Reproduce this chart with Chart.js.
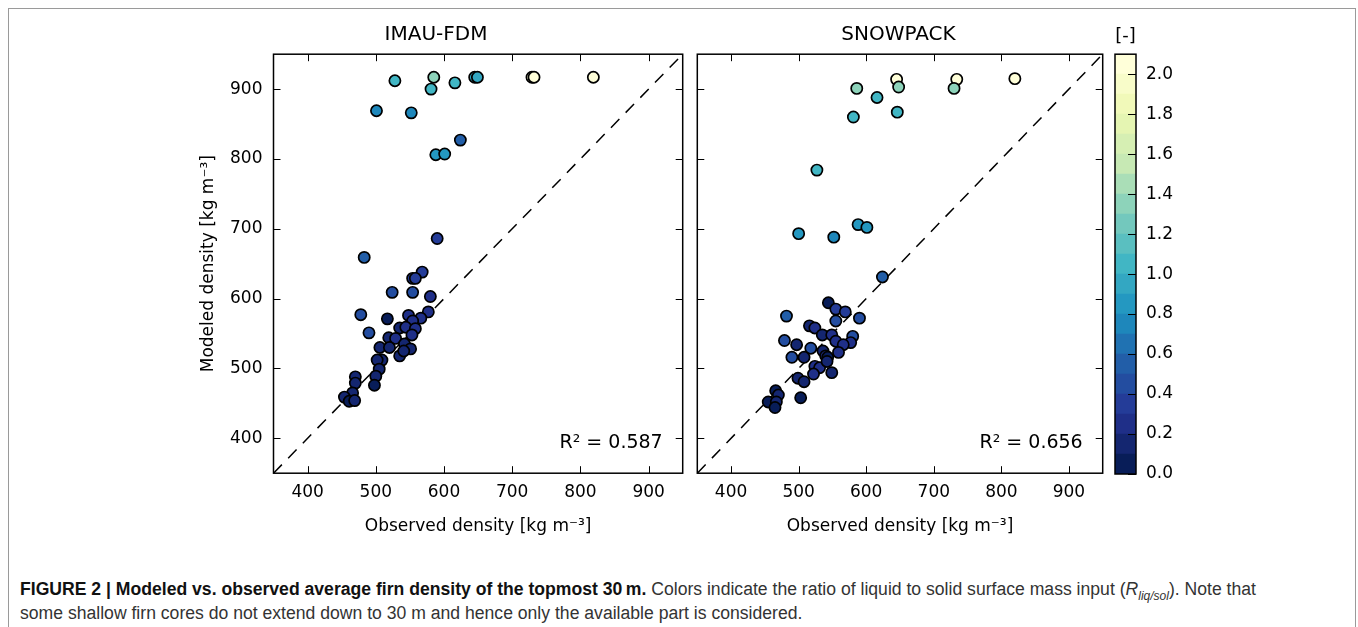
<!DOCTYPE html>
<html>
<head>
<meta charset="utf-8">
<title>Modeled vs observed firn density</title>
<script src="https://cdn.jsdelivr.net/npm/chart.js"></script>
<style>
  body { margin: 0; background: #fff; width: 1358px; height: 627px; overflow: hidden; position: relative; }
  .frame { position: absolute; left: 8px; top: 8px; width: 1346px; height: 640px; border: 1.5px solid #9a9a9a; }
  canvas { position: absolute; }
  #caption { position: absolute; left: 20px; top: 577px; font-family: "Liberation Sans", Arial, sans-serif;
             font-size: 17.6px; line-height: 24px; color: #333; white-space: nowrap; }
  #caption b { color: #111; }
  #caption sub { font-size: 12px; line-height: 0; }
</style>
</head>
<body>
<div class="frame"></div>
<canvas id="fdmChart" width="505" height="520" style="left:185px; top:20px"></canvas>
<canvas id="spChart" width="420" height="520" style="left:690px; top:20px"></canvas>
<canvas id="cbChart" width="240" height="520" style="left:1110px; top:20px"></canvas>
<div id="caption"><b>FIGURE 2 | Modeled vs. observed average firn density of the topmost 30&#8201;m.</b> Colors indicate the ratio of liquid to solid surface mass input (<i>R<sub>liq/sol</sub></i>). Note that<br>some shallow firn cores do not extend down to 30 m and hence only the available part is considered.</div>

<script>
// axis ticks
const densityTicks = [400, 500, 600, 700, 800, 900];
const ratioTicks = [0.0, 0.2, 0.4, 0.6, 0.8, 1.0, 1.2, 1.4, 1.6, 1.8, 2.0];
const ratioLevels = [0.0, 0.1, 0.2, 0.3, 0.4, 0.5, 0.6, 0.7, 0.8, 0.9, 1.0,
                     1.1, 1.2, 1.3, 1.4, 1.5, 1.6, 1.7, 1.8, 1.9, 2.0];

// IMAU-FDM panel
const fdmObs = [528, 585, 581, 616, 645, 649, 729, 732, 819, 501, 552, 624, 588, 601, 590, 483, 568, 554, 558, 524,
                554, 580, 478, 577, 566, 517, 548, 554, 490, 535, 544, 558, 553, 519, 529, 542, 506, 520, 551, 535,
                541, 509, 502, 505, 500, 498, 470, 470, 466, 454, 461, 469];
const fdmMod = [912, 917, 900, 909, 917, 917, 917, 917, 917, 869, 866, 827, 806, 807, 686, 659, 638, 629, 629, 609,
                609, 603, 577, 581, 572, 571, 576, 568, 551, 558, 559, 557, 548, 544, 543, 535, 530, 530, 528, 518,
                525, 512, 512, 499, 489, 476, 488, 479, 465, 459, 453, 454];
const fdmRatio = [1.0, 1.3, 1.05, 1.0, 0.95, 0.9, 2.05, 2.05, 2.0, 0.7, 0.7, 0.5, 0.8, 0.8, 0.3, 0.55, 0.35, 0.3, 0.3, 0.45,
                  0.4, 0.25, 0.45, 0.25, 0.2, 0.05, 0.2, 0.2, 0.4, 0.15, 0.2, 0.2, 0.2, 0.15, 0.2, 0.1, 0.1, 0.15, 0.15, 0.15,
                  0.1, 0.15, 0.1, 0.1, 0.1, 0.05, 0.1, 0.1, 0.1, 0.1, 0.05, 0.1];

// SNOWPACK panel
const spObs = [645, 648, 734, 730, 820, 586, 616, 646, 581, 527, 588, 601, 500, 552, 624, 544, 555, 569, 590, 482,
               555, 516, 524, 535, 549, 580, 577, 479, 497, 518, 555, 566, 536, 559, 490, 508, 540, 543, 524, 531,
               542, 522, 549, 499, 508, 503, 466, 470, 455, 467, 465];
const spMod = [914, 903, 914, 901, 915, 901, 888, 867, 860, 784, 706, 702, 693, 688, 631, 594, 585, 581, 572, 575,
               568, 561, 558, 548, 548, 546, 537, 540, 534, 529, 539, 534, 525, 523, 516, 516, 518, 516, 503, 501,
               510, 492, 494, 486, 481, 458, 468, 462, 452, 452, 444];
const spRatio = [2.05, 1.35, 2.05, 1.35, 2.0, 1.35, 1.05, 1.0, 1.0, 1.0, 0.8, 0.8, 0.8, 0.75, 0.55, 0.05, 0.35, 0.35, 0.4, 0.55,
                 0.4, 0.1, 0.2, 0.15, 0.2, 0.4, 0.25, 0.45, 0.1, 0.4, 0.2, 0.25, 0.15, 0.2, 0.4, 0.1, 0.2, 0.05, 0.25, 0.25,
                 0.15, 0.2, 0.1, 0.1, 0.15, 0.05, 0.05, 0.1, 0.05, 0.1, 0.05];

const ylgnbu = ['#081d58', '#253494', '#225ea8', '#1d91c0', '#41b6c4', '#7fcdbb', '#c7e9b4', '#edf8b1', '#ffffd9'];

function hexRgb(h) { return [1, 3, 5].map(i => parseInt(h.slice(i, i + 2), 16)); }

function cmap(t) {
  const s = t * (ylgnbu.length - 1);
  const i = Math.min(Math.floor(s), ylgnbu.length - 2);
  const f = s - i;
  const a = hexRgb(ylgnbu[i]), b = hexRgb(ylgnbu[i + 1]);
  const c = a.map((v, k) => Math.round(v + (b[k] - v) * f));
  return 'rgb(' + c.join(',') + ')';
}

// 21 discrete levels of 0.1
function ratioColor(r) {
  const bin = Math.max(0, Math.min(20, Math.floor(r / 0.1 + 1e-6)));
  return cmap(bin / 20);
}

const FONT = '"DejaVu Sans", sans-serif';
Chart.defaults.font.family = FONT;
Chart.defaults.color = '#000';

// matplotlib-style inward ticks and a closed box
const boxPlugin = {
  id: 'box',
  afterDraw(chart, args, opts) {
    const { ctx, chartArea: a, scales } = chart;
    ctx.save();
    ctx.strokeStyle = '#000';
    ctx.lineWidth = 1;
    ctx.beginPath();
    if (opts.xy) {
      for (const t of scales.x.ticks) {
        const px = Math.round(scales.x.getPixelForValue(t.value)) + 0.5;
        ctx.moveTo(px, a.bottom); ctx.lineTo(px, a.bottom - 7);
        ctx.moveTo(px, a.top); ctx.lineTo(px, a.top + 7);
      }
      for (const t of scales.y.ticks) {
        const py = Math.round(scales.y.getPixelForValue(t.value)) + 0.5;
        ctx.moveTo(a.left, py); ctx.lineTo(a.left + 7, py);
        ctx.moveTo(a.right, py); ctx.lineTo(a.right - 7, py);
      }
    } else {
      for (const t of scales.y.ticks) {
        const py = Math.round(scales.y.getPixelForValue(t.value)) + 0.5;
        ctx.moveTo(a.right, py); ctx.lineTo(a.right - 8, py);
      }
    }
    ctx.stroke();
    ctx.lineWidth = 1.5;
    ctx.strokeRect(a.left, a.top, a.right - a.left, a.bottom - a.top);
    if (opts.note) {
      ctx.fillStyle = '#000';
      ctx.font = opts.noteSize + 'px ' + FONT;
      ctx.textAlign = opts.noteAlign || 'right';
      ctx.textBaseline = 'middle';
      const x = opts.noteAlign === 'center' ? (a.left + a.right) / 2 : a.right - 20;
      ctx.fillText(opts.note, x, opts.noteY(a));
    }
    ctx.restore();
  }
};

function densityChart(id, title, obs, mod, ratio, r2, showY, yWidth) {
  const pts = obs.map((x, i) => ({ x: x, y: mod[i] }));
  return new Chart(document.getElementById(id), {
    type: 'scatter',
    data: {
      datasets: [{
        data: pts,
        pointRadius: 5.6,
        pointBorderWidth: 1.7,
        pointBorderColor: '#000',
        pointBackgroundColor: ratio.map(ratioColor),
        pointHoverRadius: 5.6
      }, {
        type: 'line',
        data: [{ x: 350, y: 350 }, { x: 950, y: 950 }],
        borderColor: '#000',
        borderWidth: 1.5,
        borderDash: [12, 9],
        pointRadius: 0,
        fill: false
      }]
    },
    options: {
      responsive: false,
      animation: false,
      events: [],
      layout: { padding: { left: 0, right: 3, top: 0, bottom: 0 } },
      plugins: {
        legend: { display: false },
        tooltip: { enabled: false },
        title: { display: true, text: title, color: '#000', font: { size: 20, weight: 'normal' },
                 padding: { top: 3, bottom: 7.2 } },
        box: { xy: true, note: 'R\u00b2 = ' + r2, noteSize: 19, noteY: a => a.bottom - 30 }
      },
      scales: {
        x: {
          type: 'linear', min: 350, max: 950,
          afterBuildTicks: s => { s.ticks = densityTicks.map(v => ({ value: v })); },
          afterFit: s => { s.height = 66.8; },
          grid: { display: false, drawTicks: false },
          border: { display: false },
          ticks: { font: { size: 17 }, padding: 9, maxRotation: 0 },
          title: { display: true, text: 'Observed density [kg m\u207b\u00b3]', font: { size: 17 },
                   padding: { top: 0, bottom: 2.8 } }
        },
        y: {
          type: 'linear', min: 350, max: 950,
          afterBuildTicks: s => { s.ticks = densityTicks.map(v => ({ value: v })); },
          afterFit: s => { s.width = yWidth; },
          grid: { display: false, drawTicks: false },
          border: { display: false },
          ticks: { display: showY, font: { size: 17 }, padding: 11 },
          title: { display: showY, text: 'Modeled density [kg m\u207b\u00b3]', font: { size: 17 },
                   padding: { top: 13.8, bottom: 0 } }
        }
      }
    },
    plugins: [boxPlugin]
  });
}

const fdmChart = densityChart('fdmChart', 'IMAU-FDM', fdmObs, fdmMod, fdmRatio, '0.587', true, 88.5);
const spChart = densityChart('spChart', 'SNOWPACK', spObs, spMod, spRatio, '0.656', false, 4);

// colour bar as stacked bars, one per 0.1 level
const cbChart = new Chart(document.getElementById('cbChart'), {
  type: 'bar',
  data: {
    labels: [''],
    datasets: ratioLevels.map(v => ({
      data: [0.1],
      backgroundColor: ratioColor(v + 0.05),
      borderWidth: 0,
      barPercentage: 1,
      categoryPercentage: 1
    }))
  },
  options: {
    responsive: false,
    animation: false,
    events: [],
    layout: { padding: { left: 5, right: 0, top: 34.2, bottom: 66 } },
    plugins: {
      legend: { display: false },
      tooltip: { enabled: false },
      box: { xy: false, note: '[-]', noteSize: 18, noteAlign: 'center', noteY: a => a.top - 18 }
    },
    scales: {
      x: { stacked: true, display: false },
      y: {
        stacked: true, position: 'right', min: 0, max: 2.1,
        afterBuildTicks: s => { s.ticks = ratioTicks.map(v => ({ value: v })); },
        afterFit: s => { s.width = 214; },
        grid: { display: false, drawTicks: false },
        border: { display: false },
        ticks: { font: { size: 17 }, padding: 10, callback: v => v.toFixed(1) }
      }
    }
  },
  plugins: [boxPlugin]
});
</script>
</body>
</html>
